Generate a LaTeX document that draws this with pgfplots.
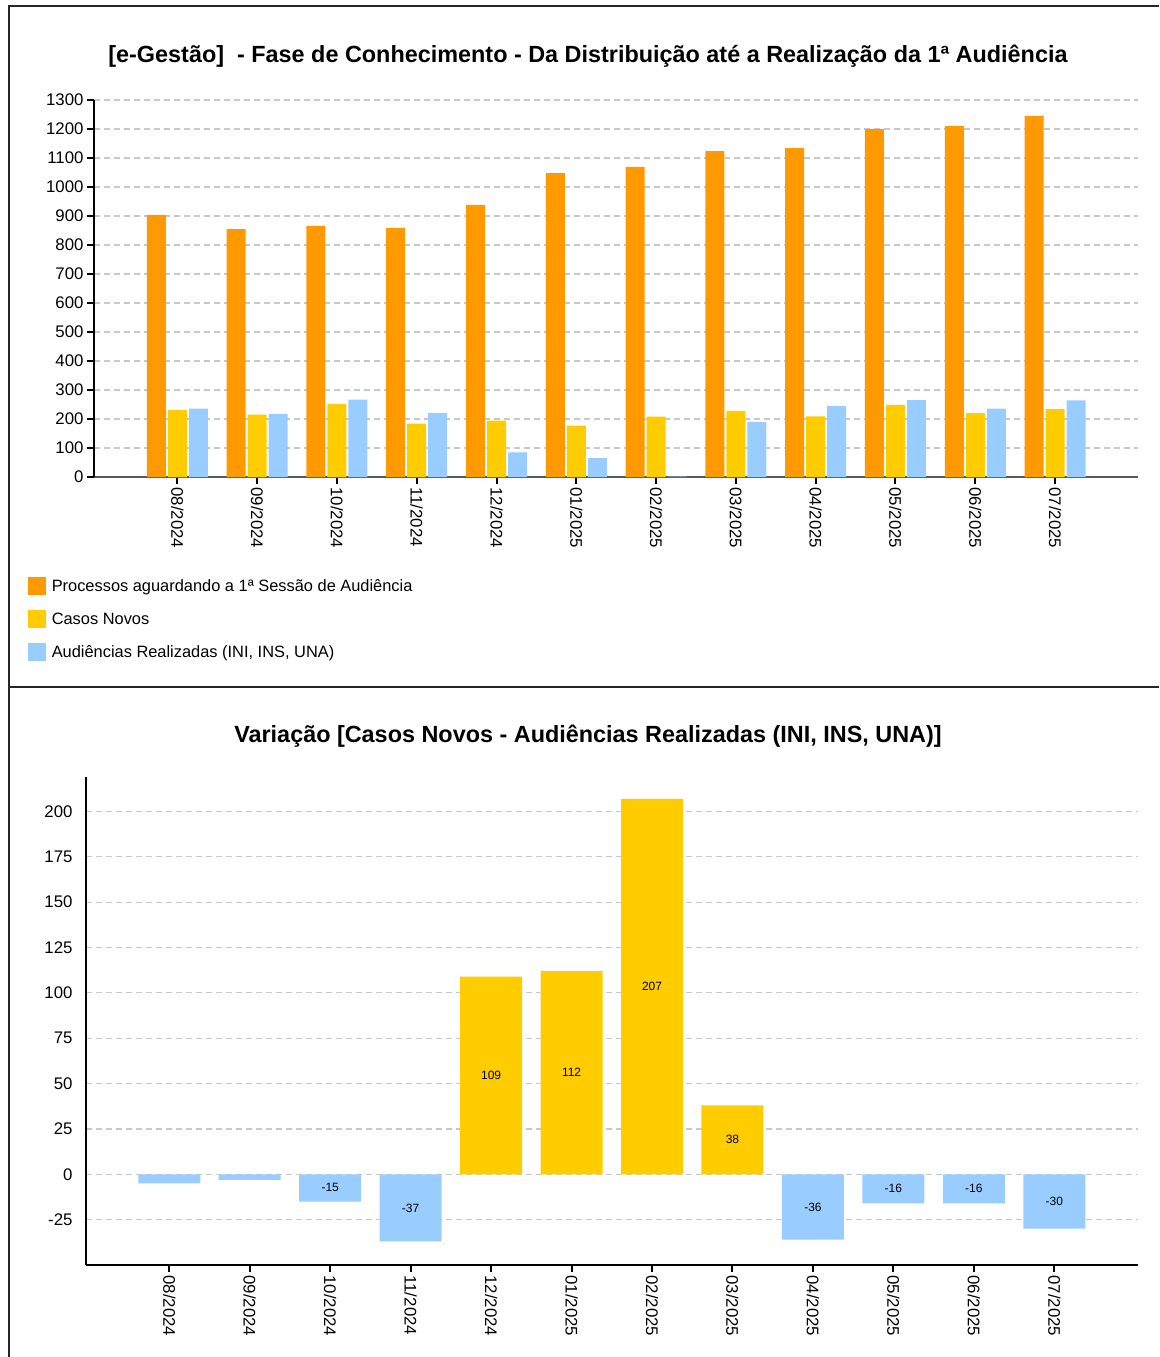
\documentclass[border=0pt]{standalone}
\usepackage{fontspec}
\setmainfont{Liberation Sans}
\usepackage{pgfplots}
\usepackage{pgfplotstable}
\pgfplotsset{compat=1.18}
\definecolor{cOr}{HTML}{FF9900}
\definecolor{cYe}{HTML}{FFCC00}
\definecolor{cBl}{HTML}{99CCFF}
\definecolor{cGrid}{HTML}{C8C8C8}
\pgfplotsset{
  sqlegend/.style={legend image code/.code={\fill[##1] (0pt,-9pt) rectangle (18pt,9pt);}},
  common/.style={
    scale only axis,
    xtick={0,...,11},
    xticklabels={08/2024,09/2024,10/2024,11/2024,12/2024,01/2025,02/2025,03/2025,04/2025,05/2025,06/2025,07/2025},
    xticklabel style={rotate=-90, anchor=west, font=\fontsize{16.8}{19}\selectfont},
    yticklabel style={font=\fontsize{16.8}{19}\selectfont},
    /pgf/number format/assume math mode=true,
    /pgf/number format/1000 sep={},
    scaled y ticks=false,
    axis lines*=left,
    axis line style={line width=2pt, black},
    ymajorgrids,
    grid style={cGrid, line width=1.2pt, dash pattern=on 6pt off 4pt},
    tick align=outside,
    major tick length=7pt,
    tick style={black, line width=2pt},
  }
}
\pgfplotstableread{
x  proc  novos  aud
0  904   231    236
1  855   215    218
2  866   252    267
3  859   184    221
4  938   194    85
5  1048  177    65
6  1069  208    1
7  1124  228    190
8  1134  209    245
9  1200  249    265
10 1210  220    236
11 1245  234    264
}\dataTop
\pgfplotstableread{
x  v
0  -5
1  -3
2  -15
3  -37
4  109
5  112
6  207
7  38
8  -36
9  -16
10 -16
11 -30
}\dataVar
\begin{document}
\begin{tikzpicture}[x=1pt,y=1pt]
\path[use as bounding box] (0,0) rectangle (1159,-1357);
\draw[line width=2pt, black!85] (8.5,-1357) -- (8.5,-6) -- (1159,-6);
\draw[line width=2pt, black!85] (8.5,-687) -- (1159,-687);

\node[font=\bfseries\fontsize{23.4}{27}\selectfont] at (588,-56) {[e-Gestão]\ \ - Fase de Conhecimento - Da Distribuição até a Realização da 1ª Audiência};

\begin{axis}[common,
  at={(94pt,-477pt)}, anchor=south west,
  width=1044pt, height=377pt,
  xmin=-1.045, xmax=12.04,
  ymin=0, ymax=1300,
  ytick={0,100,...,1300},
  x axis line style={black!65},
  legend style={at={(-0.0665,-0.2606)}, anchor=north west, draw=none, fill=none,
    font=\fontsize{16.4}{19}\selectfont, row sep=14.8pt, legend cell align=left,
    nodes={inner xsep=6pt}},
]
\addplot[ybar, sqlegend, fill=cOr, draw=none, bar width=19pt, bar shift=-21pt] table[x=x,y=proc] {\dataTop};
\addlegendentry{Processos aguardando a 1ª Sessão de Audiência}
\addplot[ybar, sqlegend, fill=cYe, draw=none, bar width=19pt, bar shift=0pt] table[x=x,y=novos] {\dataTop};
\addlegendentry{Casos Novos}
\addplot[ybar, sqlegend, fill=cBl, draw=none, bar width=19pt, bar shift=21pt] table[x=x,y=aud] {\dataTop};
\addlegendentry{Audiências Realizadas (INI, INS, UNA)}
\end{axis}

\node[font=\bfseries\fontsize{23.4}{27}\selectfont] at (588,-736) {Variação [Casos Novos - Audiências Realizadas (INI, INS, UNA)]};

\begin{axis}[common,
  at={(86pt,-1265pt)}, anchor=south west,
  width=1052pt, height=488pt,
  xmin=-1.035, xmax=12.04,
  ymin=-50, ymax=219,
  ytick={-25,0,25,...,200},
  ytick style={draw=none},
  yticklabel style={xshift=-3pt},
]
\addplot[ybar, fill=cYe, draw=none, bar width=62pt, bar shift=0pt] coordinates {(4,109) (5,112) (6,207) (7,38)};
\addplot[ybar, fill=cBl, draw=none, bar width=62pt, bar shift=0pt] coordinates {(0,-5) (1,-3) (2,-15) (3,-37) (8,-36) (9,-16) (10,-16) (11,-30)};
\addplot[only marks, mark=none, skip coords between index={0}{2},
  nodes near coords, point meta=explicit symbolic,
  nodes near coords align={center},
  every node near coord/.append style={anchor=center, font=\fontsize{12}{14}\selectfont, black}]
  table[x=x, y expr=\thisrow{v}/2, meta=v] {\dataVar};
\end{axis}
\end{tikzpicture}
\end{document}
